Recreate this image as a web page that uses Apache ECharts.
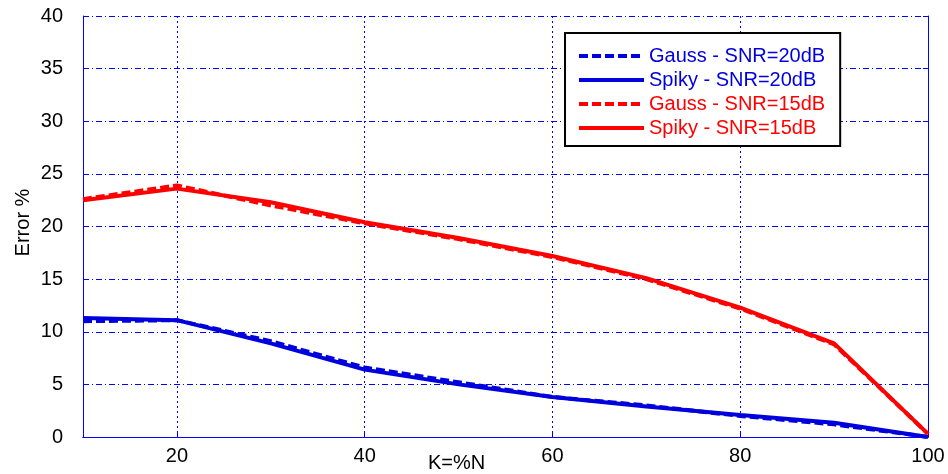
<!DOCTYPE html>
<html>
<head>
<meta charset="utf-8">
<script src="https://cdn.jsdelivr.net/npm/echarts@6/dist/echarts.min.js"></script>
<style>
  html, body { margin: 0; padding: 0; background: #fff; }
  #chart { width: 948px; height: 474px; }
</style>
</head>
<body>
<div id="chart"></div>
<script>
// K = %N on the x axis
const kValues = [10, 20, 30, 40, 50, 60, 70, 80, 90, 100]
const xTicks = [20, 40, 60, 80, 100]

// Error %
const gauss20 = [11.0, 11.1, 9.1, 6.6, 5.2, 3.8, 3.0, 2.0, 1.2, 0.0]
const spiky20 = [11.3, 11.1, 8.9, 6.4, 5.0, 3.8, 2.9, 2.1, 1.35, 0.0]
const gauss15 = [22.6, 23.9, 22.0, 20.3, 18.8, 17.1, 15.0, 12.2, 8.8, 0.3]
const spiky15 = [22.5, 23.6, 22.3, 20.4, 18.9, 17.2, 15.1, 12.3, 8.9, 0.3]

const BLUE = '#0000dd'
const RED = '#ff0000'
const GRID = '#0000ff'
const FONT = 'Liberation Sans, Arial, sans-serif'

function pairs(ys) {
  return kValues.map((k, i) => [k, ys[i]])
}

const chart = echarts.init(document.getElementById('chart'), null, { renderer: 'canvas' })

chart.setOption({
  animation: false,
  textStyle: { fontFamily: FONT },
  grid: { left: 83, right: 20, top: 16, bottom: 37, outerBoundsMode: 'none', containLabel: false },
  legend: {
    left: 565,
    top: 33,
    orient: 'vertical',
    itemWidth: 65,
    itemHeight: 14,
    itemGap: 4,
    padding: [13, 15, 8, 12],
    borderColor: '#000',
    borderWidth: 2,
    backgroundColor: '#fff',
    itemStyle: { opacity: 0 },
    lineStyle: { width: 4 },
    textStyle: { fontSize: 20, fontFamily: FONT },
    data: [
      { name: 'Gauss - SNR=20dB', textStyle: { color: BLUE } },
      { name: 'Spiky - SNR=20dB', textStyle: { color: BLUE } },
      { name: 'Gauss - SNR=15dB', textStyle: { color: RED } },
      { name: 'Spiky - SNR=15dB', textStyle: { color: RED } }
    ]
  },
  xAxis: [
    {
      type: 'value',
      min: 10,
      max: 100,
      name: 'K=%N',
      nameLocation: 'middle',
      nameGap: 16,
      nameMoveOverlap: false,
      nameTextStyle: { fontSize: 20, color: '#000', padding: [0, 98, 0, 0] },
      axisLine: { lineStyle: { color: GRID, width: 1 } },
      axisTick: { inside: true, length: 5, customValues: xTicks, lineStyle: { color: GRID } },
      axisLabel: { customValues: xTicks, fontSize: 20, color: '#000', margin: 9 },
      splitLine: { show: true, lineStyle: { color: GRID, type: [2, 3], width: 1 } }
    },
    {
      type: 'value',
      position: 'top',
      min: 10,
      max: 100,
      axisLine: { show: true, lineStyle: { color: GRID, width: 1 } },
      axisTick: { show: false },
      axisLabel: { show: false },
      splitLine: { show: false }
    }
  ],
  yAxis: [
    {
      type: 'value',
      min: 0,
      max: 40,
      interval: 5,
      name: 'Error %',
      nameLocation: 'middle',
      nameGap: 50,
      nameMoveOverlap: false,
      nameTextStyle: { fontSize: 20, color: '#000', padding: [0, 0, 0, 8] },
      axisLine: { show: true, lineStyle: { color: GRID, width: 1 } },
      axisTick: { show: true, inside: true, length: 5, lineStyle: { color: GRID } },
      axisLabel: { fontSize: 20, color: '#000', margin: 20 },
      splitLine: { show: true, lineStyle: { color: GRID, type: [6, 3, 1, 3], width: 1 } }
    },
    {
      type: 'value',
      position: 'right',
      min: 0,
      max: 40,
      interval: 5,
      axisLine: { show: true, lineStyle: { color: GRID, width: 1 } },
      axisTick: { show: true, inside: true, length: 5, lineStyle: { color: GRID } },
      axisLabel: { show: false },
      splitLine: { show: false }
    }
  ],
  series: [
    {
      name: 'Gauss - SNR=20dB',
      type: 'line',
      data: pairs(gauss20),
      symbol: 'none',
      color: BLUE,
      lineStyle: { color: BLUE, width: 4, type: [9, 4] }
    },
    {
      name: 'Spiky - SNR=20dB',
      type: 'line',
      data: pairs(spiky20),
      symbol: 'none',
      color: BLUE,
      lineStyle: { color: BLUE, width: 4 }
    },
    {
      name: 'Gauss - SNR=15dB',
      type: 'line',
      data: pairs(gauss15),
      symbol: 'none',
      color: RED,
      lineStyle: { color: RED, width: 4, type: [9, 4] }
    },
    {
      name: 'Spiky - SNR=15dB',
      type: 'line',
      data: pairs(spiky15),
      symbol: 'none',
      color: RED,
      lineStyle: { color: RED, width: 4 }
    }
  ]
})
</script>
</body>
</html>
